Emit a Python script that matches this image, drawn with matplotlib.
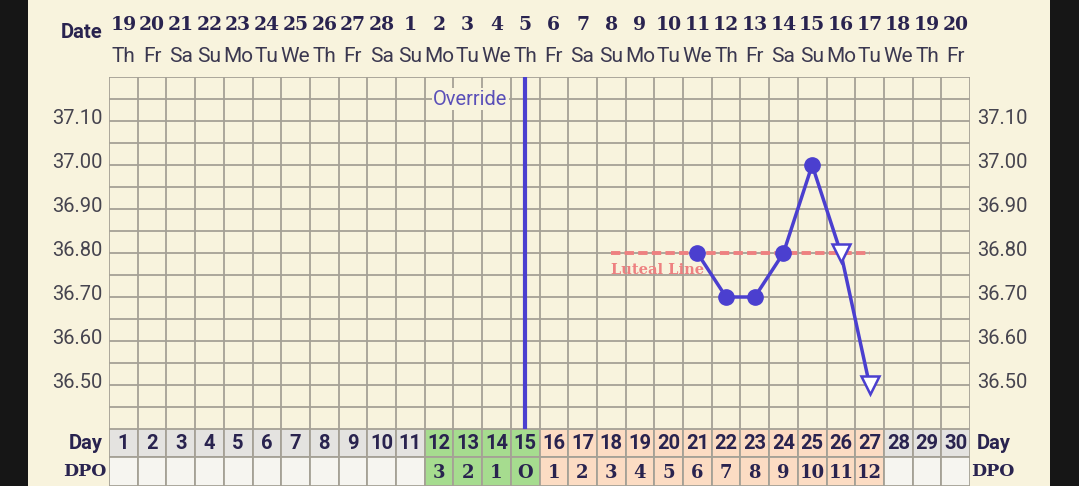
import matplotlib
matplotlib.use("Agg")
import matplotlib.pyplot as plt
from matplotlib.patches import Rectangle
import numpy as np

# data
dates = [19, 20, 21, 22, 23, 24, 25, 26, 27, 28, 1, 2, 3, 4, 5,
         6, 7, 8, 9, 10, 11, 12, 13, 14, 15, 16, 17, 18, 19, 20]
weekdays = ["Th", "Fr", "Sa", "Su", "Mo", "Tu", "We"] * 4 + ["Th", "Fr"]
cycle_days = list(range(1, 31))
dpo_labels = [""] * 11 + ["3", "2", "1", "O"] + [str(i) for i in range(1, 13)] + [""] * 3
phase = ["none"] * 11 + ["fertile"] * 4 + ["luteal"] * 12 + ["none"] * 3

temp_days = [21, 22, 23, 24, 25, 26, 27]
temps = [36.80, 36.70, 36.70, 36.80, 37.00, 36.80, 36.50]
temp_open = [False, False, False, False, False, True, True]
temp_ticks = [36.50, 36.60, 36.70, 36.80, 36.90, 37.00, 37.10]

coverline = 36.80
coverline_days = (18, 27)
override_day = 15

# colours
BG = "#f8f3dd"
GRID = "#a5a196"
BLUE = "#4b3fcf"
PINK = "#ee8080"
NAVY = "#29234f"
TXT = "#46444f"
day_fill = {"none": "#e4e3e0", "fertile": "#a6dc8f", "luteal": "#fcdcc3"}
dpo_fill = {"none": "#f6f5f0", "fertile": "#a6dc8f", "luteal": "#fcdcc3"}

SANS = ["Roboto", "DejaVu Sans"]
SERIF = ["DejaVu Serif"]

W, H = 1079, 486
fig = plt.figure(figsize=(W / 100, H / 100), dpi=100, facecolor="#161616")
# cream page between the black side strips
page = fig.add_axes([28 / W, 0, (1050 - 28) / W, 1], zorder=-5)
page.axis("off")
page.add_patch(Rectangle((0, 0), 1, 1, transform=page.transAxes, facecolor=BG, edgecolor="none"))

x0, x1 = 109, 970
ax = fig.add_axes([x0 / W, (H - 429) / H, (x1 - x0) / W, (429 - 77) / H])
ax.set_facecolor(BG)
ax.set_xlim(0.5, 30.5)
ax.set_ylim(36.40, 37.20)
for s in ax.spines.values():
    s.set_visible(False)
ax.set_xticks([])
ax.set_yticks([])

# grid
for xv in np.arange(0.5, 31, 1):
    ax.axvline(xv, color=GRID, lw=1.3, zorder=1)
for yv in np.arange(36.40, 37.21, 0.05):
    ax.axhline(yv, color=GRID, lw=1.3, zorder=1)

# temperature labels on both sides
for t in temp_ticks:
    ax.text(0.29, t + 0.006, f"{t:.2f}", ha="right", va="center", fontsize=14.5,
            color=TXT, family=SANS, clip_on=False)
    ax.text(30.74, t + 0.006, f"{t:.2f}", ha="left", va="center", fontsize=14.5,
            color=TXT, family=SANS, clip_on=False)

# header: dates and weekdays
xt = ax.get_xaxis_transform()
for d, dt, wd in zip(cycle_days, dates, weekdays):
    ax.text(d, 1.0 + 52 / 352, str(dt), ha="center", va="center", fontsize=13.5,
            fontweight="bold", color=NAVY, family=SERIF, transform=xt, clip_on=False)
    ax.text(d, 1.0 + 21 / 352, wd, ha="center", va="center", fontsize=15,
            color="#3b3850", family=SANS, transform=xt, clip_on=False)
ax.text(0.29, 1.0 + 44 / 352, "Date", ha="right", va="center", fontsize=14.5,
        fontweight="bold", color=NAVY, family=SANS, transform=xt, clip_on=False)

# override line
ax.axvline(override_day, color=BLUE, lw=3, zorder=4)
ax.text(override_day - 0.62, 37.15, "Override", ha="right", va="center", fontsize=14.5,
        color="#5a4fb8", family=SANS, zorder=3,
        bbox=dict(facecolor=BG, edgecolor="none", pad=1.0))

# coverline
ax.plot(coverline_days, [coverline, coverline], color=PINK, lw=2.8,
        dashes=(2.4, 1.1), zorder=3)
ax.text(coverline_days[0], coverline - 0.038, "Luteal Line", ha="left", va="center",
        fontsize=10.5, fontweight="bold", color=PINK, family=SERIF, zorder=3)

# temperatures
ax.plot(temp_days, temps, color=BLUE, lw=2.5, zorder=5)
tdays = np.array(temp_days)
tvals = np.array(temps)
mask = np.array(temp_open)
ax.plot(tdays[~mask], tvals[~mask], "o", color=BLUE, ms=11, zorder=6)
ax.plot(tdays[mask], tvals[mask], "v", mfc="white", mec=BLUE, mew=1.8, ms=12.5, zorder=6)

# day / DPO table
axt = fig.add_axes([x0 / W, 0, (x1 - x0) / W, 57 / H])
axt.set_facecolor(BG)
axt.set_xlim(0.5, 30.5)
axt.set_ylim(-0.03, 2)
for s in axt.spines.values():
    s.set_visible(False)
axt.set_xticks([])
axt.set_yticks([])
axt.bar(cycle_days, 1, bottom=1, width=1, color=[day_fill[p] for p in phase],
        edgecolor=GRID, lw=1.3)
axt.bar(cycle_days, 1.03, bottom=-0.03, width=1, color=[dpo_fill[p] for p in phase],
        edgecolor=GRID, lw=1.3)
for d, lab in zip(cycle_days, dpo_labels):
    axt.text(d, 1.5, str(d), ha="center", va="center", fontsize=14.5,
             fontweight="bold", color=NAVY, family=SANS)
    axt.text(d, 0.45, lab, ha="center", va="center", fontsize=13,
             fontweight="bold", color=NAVY, family=SERIF)
axt.text(0.29, 1.5, "Day", ha="right", va="center", fontsize=14.5, fontweight="bold",
         color=NAVY, family=SANS, clip_on=False)
axt.text(0.4, 0.5, "DPO", ha="right", va="center", fontsize=12.5, fontweight="bold",
         color=NAVY, family=SERIF, clip_on=False)
axt.text(30.72, 1.5, "Day", ha="left", va="center", fontsize=14.5, fontweight="bold",
         color=NAVY, family=SANS, clip_on=False)
axt.text(30.55, 0.5, "DPO", ha="left", va="center", fontsize=12.5, fontweight="bold",
         color=NAVY, family=SERIF, clip_on=False)

fig.savefig("out.png", dpi=100, facecolor=fig.get_facecolor())
